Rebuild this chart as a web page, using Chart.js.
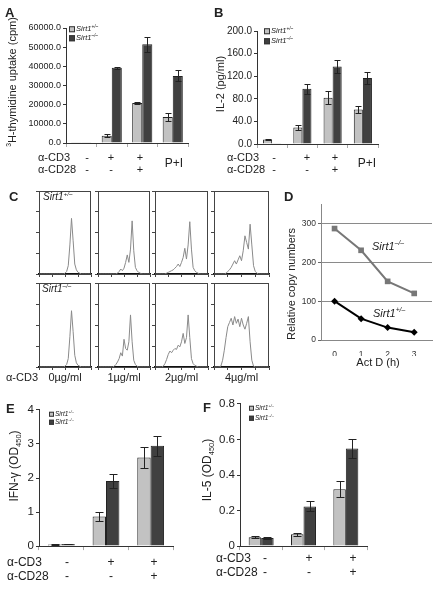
<!DOCTYPE html>
<html>
<head>
<meta charset="utf-8">
<script src="https://cdn.jsdelivr.net/npm/chart.js@4"></script>
<style>
  html, body { margin: 0; padding: 0; }
  body { width: 436px; height: 599px; position: relative; overflow: hidden; background: #fff;
         font-family: "Liberation Sans", Arial, sans-serif; color: #222; }
  canvas { position: absolute; }
  .t { position: absolute; white-space: nowrap; line-height: 1; }
  .t sup, .t sub { font-size: 62%; line-height: 0; }
  .lg { font-style: italic; }
  .sq { display: inline-block; box-sizing: border-box; border: 1px solid #333; vertical-align: middle; margin-right: 1px; }
  .pl { font-weight: bold; }
</style>
</head>
<body>
<script>
// ---- data ----
// A: 3H-thymidine uptake (cpm)
const stimABC = ['-/-', '+/-', '+/+', 'P+I'];
const thyHet = [150, 3800, 20900, 13600];
const thyHetErr = [0, 800, 600, 1900];
const thyKo = [150, 39200, 51500, 35000];
const thyKoErr = [0, 700, 3900, 2900];
// B: IL-2 (pg/ml)
const il2Het = [8, 29, 82, 61];
const il2HetErr = [1, 4, 12, 7];
const il2Ko = [0.6, 98, 137, 117];
const il2KoErr = [0, 9, 12, 10];
// C: CFSE-like histograms, 33 bins, height in % of box
const histHet = [
  [0,0,0,0,0,0,0,0,0,0,0,0,0,0,0,0,1,3,10,35,67,40,12,5,2,1,0,0,0,0,0,0,0],
  [0,0,0,0,0,0,0,0,0,0,0,0,1,3,6,4,7,14,23,14,30,64,28,8,4,2,1,0,0,0,0,0,0],
  [0,0,0,0,0,0,0,1,2,3,4,5,7,9,12,9,14,20,31,18,35,63,30,8,4,2,1,0,0,0,0,0,0],
  [0,0,0,0,0,0,0,1,3,5,8,12,16,12,17,22,16,28,46,38,30,60,35,10,3,1,0,0,0,0,0,0,0]
];
const histKo = [
  [0,0,0,0,0,0,0,0,0,0,0,0,0,0,0,0,1,3,10,36,67,42,14,5,2,1,0,0,0,0,0,0,0],
  [0,0,0,0,0,0,0,0,0,0,1,3,6,10,17,13,33,22,20,30,62,30,8,3,1,0,0,0,0,0,0,0,0],
  [0,0,0,0,0,1,4,9,15,19,17,20,22,21,26,24,30,40,28,35,62,35,10,4,2,1,0,0,0,0,0,0,0],
  [0,0,0,0,1,8,20,35,48,53,58,50,60,52,57,48,58,50,45,52,60,30,8,1,0,0,0,0,0,0,0,0,0]
];
const doses = ['0\u00b5g/ml', '1\u00b5g/ml', '2\u00b5g/ml', '4\u00b5g/ml'];
// D: relative copy numbers after Act D
const actD = [0, 1, 2, 3];
const copyKo = [287, 231, 151, 120];
const copyHet = [100, 55, 32, 20];
const copyTicks = [0, 100, 200, 300];
// E: IFN-g (OD450)
const stimEF = ['-/-', '+/-', '+/+'];
const ifnHet = [0.05, 0.87, 2.6];
const ifnHetErr = [0.01, 0.12, 0.31];
const ifnKo = [0.06, 1.91, 2.95];
const ifnKoErr = [0.01, 0.2, 0.29];
// F: IL-5 (OD450)
const il5Het = [0.05, 0.067, 0.32];
const il5HetErr = [0.005, 0.009, 0.044];
const il5Ko = [0.045, 0.223, 0.549];
const il5KoErr = [0.004, 0.028, 0.056];

const FONT = '"Liberation Sans", Arial, sans-serif';
const LIGHT = '#c2c2c2', DARK = '#404040', EDGE = '#222';
Chart.defaults.font.family = FONT;
Chart.defaults.color = '#222';

// error bars from dataset.err, drawn through the y scale
const errorBars = {
  id: 'errorBars',
  afterDatasetsDraw(chart, args, opts) {
    const ctx = chart.ctx, y = chart.scales.y, cap = opts.cap || 3;
    ctx.save();
    ctx.strokeStyle = '#222'; ctx.lineWidth = 1;
    chart.data.datasets.forEach((ds, di) => {
      if (!ds.err) return;
      chart.getDatasetMeta(di).data.forEach((bar, i) => {
        const e = ds.err[i];
        if (!e) return;
        const top = Math.round(y.getPixelForValue(ds.data[i] + e)) + 0.5;
        const bot = Math.round(y.getPixelForValue(ds.data[i] - e)) + 0.5;
        const x = Math.round(bar.x) + 0.5;
        ctx.beginPath();
        ctx.moveTo(x, top); ctx.lineTo(x, bot);
        ctx.moveTo(x - cap, top); ctx.lineTo(x + cap, top);
        ctx.moveTo(x - cap, bot); ctx.lineTo(x + cap, bot);
        ctx.stroke();
      });
    });
    ctx.restore();
  }
};
const frame = {
  id: 'frame',
  afterDraw(chart, args, opts) {
    const a = chart.chartArea, ctx = chart.ctx;
    ctx.save();
    ctx.strokeStyle = opts.color || '#444'; ctx.lineWidth = 1;
    ctx.strokeRect(a.left + 0.5, a.top + 0.5, a.right - a.left - 1, a.bottom - a.top);
    ctx.restore();
  }
};

// canvas whose chart area lands on (x, y, w, h)
function area(x, y, w, h, l, t, r, b) {
  const c = document.createElement('canvas');
  c.width = w + l + r; c.height = h + t + b;
  c.style.left = (x - l) + 'px'; c.style.top = (y - t) + 'px';
  c.style.width = c.width + 'px'; c.style.height = c.height + 'px';
  document.body.appendChild(c);
  return c;
}

function put(html, x, y, o = {}) {
  const d = document.createElement('div');
  d.className = 't' + (o.cls ? ' ' + o.cls : '');
  d.innerHTML = html;
  d.style.left = x + 'px'; d.style.top = y + 'px';
  d.style.fontSize = (o.size || 11) + 'px';
  if (o.rot) d.style.transform = 'translate(-50%,-50%) rotate(-90deg)';
  else {
    const tx = o.align === 'c' ? '-50%' : o.align === 'r' ? '-100%' : '0';
    d.style.transform = `translate(${tx},-50%)`;
  }
  document.body.appendChild(d);
  return d;
}

function legend(x, y1, y2, size, sq) {
  put(`<span class="sq" style="width:${sq}px;height:${sq}px;background:${LIGHT}"></span><i>Sirt1<sup>+/\u2013</sup></i>`, x, y1, { size });
  put(`<span class="sq" style="width:${sq}px;height:${sq}px;background:${DARK}"></span><i>Sirt1<sup>\u2013/\u2013</sup></i>`, x, y2, { size });
}

function barPanel(r, cats, het, hetErr, ko, koErr, yMax, step, fmt, tickSize, catPct, cap) {
  const L = 56, T = 8, R = 4, B = 8;
  const cv = area(r.x, r.y, r.w, r.h, L, T, R, B);
  return new Chart(cv, {
    type: 'bar',
    data: {
      labels: cats,
      datasets: [
        { data: het, err: hetErr, backgroundColor: LIGHT, borderColor: EDGE, borderWidth: 1,
          categoryPercentage: catPct, barPercentage: 1 },
        { data: ko, err: koErr, backgroundColor: DARK, borderColor: EDGE, borderWidth: 1,
          categoryPercentage: catPct, barPercentage: 1 }
      ]
    },
    options: {
      responsive: false, animation: false, events: [],
      layout: { padding: { top: T, right: R, left: 0, bottom: 0 } },
      plugins: { legend: { display: false }, tooltip: { enabled: false }, errorBars: { cap } },
      scales: {
        x: {
          grid: { drawOnChartArea: false, tickLength: 4, color: '#aaa' },
          border: { color: '#333' },
          ticks: { display: false },
          afterFit: s => { s.height = B; }
        },
        y: {
          min: 0, max: yMax,
          ticks: { stepSize: step, font: { size: tickSize }, color: '#222', padding: 2, callback: fmt },
          grid: { drawOnChartArea: false, tickLength: 3, color: '#333' },
          border: { color: '#333' },
          afterFit: s => { s.width = L; }
        }
      }
    },
    plugins: [errorBars]
  });
}

function histPanel(r, values) {
  const cv = area(r.x, r.y, r.w, r.h, 4, 1, 1, 4);
  return new Chart(cv, {
    type: 'line',
    data: { datasets: [{ data: values.map((v, i) => ({ x: i, y: v })), borderColor: '#8a8a8a',
      borderWidth: 1, pointRadius: 0, tension: 0 }] },
    options: {
      responsive: false, animation: false, events: [],
      layout: { padding: { top: 1, right: 1, left: 0, bottom: 0 } },
      plugins: { legend: { display: false }, tooltip: { enabled: false }, frame: { color: '#444' } },
      scales: {
        x: { type: 'linear', min: 0, max: 32, ticks: { display: false, stepSize: 8 },
             grid: { drawOnChartArea: false, tickLength: 3, color: '#444' },
             border: { color: '#111', width: 1.5 }, afterFit: s => { s.height = 4; } },
        y: { min: 0, max: 100, ticks: { display: false, stepSize: 25 },
             grid: { drawOnChartArea: false, tickLength: 3, color: '#444' },
             border: { color: '#444' }, afterFit: s => { s.width = 4; } }
      }
    },
    plugins: [frame]
  });
}

// ---- A ----
barPanel({ x: 66, y: 28, w: 122, h: 115 }, stimABC, thyHet, thyHetErr, thyKo, thyKoErr,
  60000, 10000, v => v.toFixed(1), 9, 0.66, 3);
legend(69, 29, 38, 7.5, 6);
put('<sup>3</sup>H-thymidine uptake (cpm)', 12, 82, { rot: true, size: 11 });
put('A', 5, 12, { cls: 'pl', size: 13 });

// ---- B ----
barPanel({ x: 257, y: 31, w: 121, h: 113 }, stimABC, il2Het, il2HetErr, il2Ko, il2KoErr,
  200, 40, v => v.toFixed(1), 10, 0.6, 3);
legend(264, 31, 41, 7.5, 6);
put('IL-2 (pg/ml)', 220, 84, { rot: true, size: 11 });
put('B', 214, 12, { cls: 'pl', size: 13 });

// condition rows under A and B
put('\u03b1-CD3', 38, 157); put('\u03b1-CD28', 38, 169);
[[87, '-', '-'], [111, '+', '-'], [140, '+', '+']].forEach(([x, a, b]) => {
  put(a, x, 157, { align: 'c' }); put(b, x, 169, { align: 'c' });
});
put('P+I', 174, 163, { align: 'c', size: 12 });
put('\u03b1-CD3', 227, 157); put('\u03b1-CD28', 227, 169);
[[274, '-', '-'], [307, '+', '-'], [335, '+', '+']].forEach(([x, a, b]) => {
  put(a, x, 157, { align: 'c' }); put(b, x, 169, { align: 'c' });
});
put('P+I', 367, 163, { align: 'c', size: 12 });

// ---- C ----
const boxX = [[39, 52], [98, 52], [155, 53], [214, 55]];
boxX.forEach(([x, w], i) => {
  histPanel({ x, y: 191, w, h: 83 }, histHet[i]);
  histPanel({ x, y: 283, w, h: 84 }, histKo[i]);
  put(doses[i], x + w / 2, 377, { align: 'c', size: 11 });
});
put('<i>Sirt1<sup>+/\u2013</sup></i>', 43, 197, { size: 10 });
put('<i>Sirt1<sup>\u2013/\u2013</sup></i>', 42, 289, { size: 10 });
put('\u03b1-CD3', 6, 377, { size: 11 });
put('C', 9, 196, { cls: 'pl', size: 13 });

// ---- D ----
const cvD = area(321, 203, 115, 137, 30, 6, 0, 16);
new Chart(cvD, {
  type: 'line',
  data: {
    datasets: [
      { data: actD.map((h, i) => ({ x: h, y: copyKo[i] })), borderColor: '#777', backgroundColor: '#777',
        borderWidth: 2, pointStyle: 'rect', pointRadius: 4, pointBorderWidth: 0 },
      { data: actD.map((h, i) => ({ x: h, y: copyHet[i] })), borderColor: '#000', backgroundColor: '#000',
        borderWidth: 2, pointStyle: 'rectRot', pointRadius: 3.5, pointBorderWidth: 0 }
    ]
  },
  options: {
    responsive: false, animation: false, events: [],
    layout: { padding: { top: 6, right: 0, left: 0, bottom: 0 } },
    plugins: { legend: { display: false }, tooltip: { enabled: false } },
    scales: {
      x: { type: 'linear', min: -0.51, max: 3.67,
           afterBuildTicks: s => { s.ticks = actD.map(v => ({ value: v })); },
           ticks: { font: { size: 8.5 }, padding: 2, color: '#333' },
           grid: { display: false }, border: { color: '#888' },
           afterFit: s => { s.height = 16; } },
      y: { min: 0, max: 350,
           afterBuildTicks: s => { s.ticks = copyTicks.map(v => ({ value: v })); },
           ticks: { font: { size: 8.5 }, padding: 2, color: '#333' },
           grid: { color: c => (c.tick && c.tick.value === 0 ? 'rgba(0,0,0,0)' : '#8a8a8a'),
                   tickColor: '#666', tickLength: 3 },
           border: { color: '#888' },
           afterFit: s => { s.width = 30; } }
    }
  }
});
put('<i>Sirt1<sup>\u2013/\u2013</sup></i>', 372, 246, { size: 11 });
put('<i>Sirt1<sup>+/\u2013</sup></i>', 373, 313, { size: 11 });
put('Relative copy numbers', 291, 284, { rot: true, size: 11 });
put('Act D (h)', 378, 362, { align: 'c', size: 11 });
put('D', 284, 196, { cls: 'pl', size: 13 });

// ---- E ----
barPanel({ x: 39, y: 409, w: 134, h: 138 }, stimEF, ifnHet, ifnHetErr, ifnKo, ifnKoErr,
  4, 1, v => String(v), 11.5, 0.6, 4);
legend(49, 414, 422, 6.5, 5);
put('IFN-\u03b3 (OD<sub>450</sub>)', 14, 466, { rot: true, size: 12 });
put('E', 6, 408, { cls: 'pl', size: 13 });
put('\u03b1-CD3', 7, 562, { size: 12 }); put('\u03b1-CD28', 7, 576, { size: 12 });
[[67, '-', '-'], [111, '+', '-'], [154, '+', '+']].forEach(([x, a, b]) => {
  put(a, x, 562, { align: 'c', size: 12 }); put(b, x, 576, { align: 'c', size: 12 });
});

// ---- F ----
barPanel({ x: 240, y: 403, w: 127, h: 144 }, stimEF, il5Het, il5HetErr, il5Ko, il5KoErr,
  0.8, 0.2, v => String(+v.toFixed(1)), 11.5, 0.59, 4);
legend(249, 408, 418, 6.5, 5);
put('IL-5 (OD<sub>450</sub>)', 207, 470, { rot: true, size: 12 });
put('F', 203, 407, { cls: 'pl', size: 13 });
put('\u03b1-CD3', 216, 558, { size: 12 }); put('\u03b1-CD28', 216, 572, { size: 12 });
[[265, '-', '-'], [309, '+', '-'], [353, '+', '+']].forEach(([x, a, b]) => {
  put(a, x, 558, { align: 'c', size: 12 }); put(b, x, 572, { align: 'c', size: 12 });
});
</script>
</body>
</html>
